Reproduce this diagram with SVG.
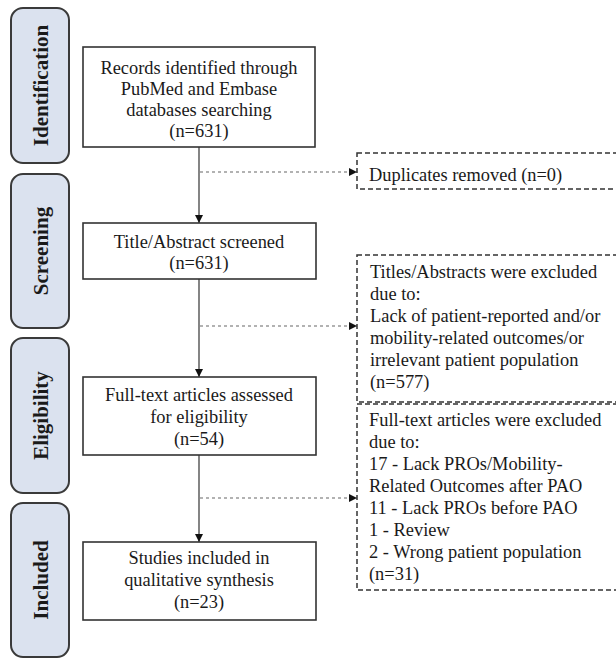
<svg xmlns="http://www.w3.org/2000/svg" width="616" height="659" viewBox="0 0 616 659">
<defs>
<style>
.stage{fill:#dbe2ef;stroke:#3a3a3a;stroke-width:2}
.stxt{font-family:"Liberation Serif","Times New Roman",serif;font-weight:bold;font-size:21px;fill:#1a1a1a;text-anchor:middle}
.box{fill:#fff;stroke:#333;stroke-width:1.6}
.dbox{fill:#fff;stroke:#333;stroke-width:1.5;stroke-dasharray:5 3}
.t{font-family:"Liberation Serif","Times New Roman",serif;font-size:18.4px;fill:#1a1a1a}
.c{text-anchor:middle}
.solid{stroke:#666;stroke-width:1.6;fill:none}
.dash{stroke:#666;stroke-width:1.2;stroke-dasharray:3 3;fill:none}
</style>
<marker id="ah" viewBox="0 0 10 10" refX="10" refY="5" markerWidth="8" markerHeight="8" markerUnits="userSpaceOnUse" orient="auto">
<path d="M0,0 L10,5 L0,10 Z" fill="#111"/>
</marker>
</defs>
<rect width="616" height="659" fill="#fff"/>

<g id="stage-identification">
<rect class="stage" x="11" y="8" width="58" height="155" rx="12"/>
<text class="stxt" transform="translate(48,85.5) rotate(-90)">Identification</text>
</g>
<g id="stage-screening">
<rect class="stage" x="11" y="174" width="58" height="154" rx="12"/>
<text class="stxt" transform="translate(48,251) rotate(-90)">Screening</text>
</g>
<g id="stage-eligibility">
<rect class="stage" x="11" y="338" width="58" height="155" rx="12"/>
<text class="stxt" transform="translate(48,415.5) rotate(-90)">Eligibility</text>
</g>
<g id="stage-included">
<rect class="stage" x="11" y="503" width="58" height="154" rx="12"/>
<text class="stxt" transform="translate(48,580) rotate(-90)">Included</text>
</g>

<g id="connectors">
<line class="solid" x1="199" y1="147" x2="199" y2="223" marker-end="url(#ah)"/>
<line class="solid" x1="199" y1="279" x2="199" y2="377" marker-end="url(#ah)"/>
<line class="solid" x1="199" y1="455" x2="199" y2="542" marker-end="url(#ah)"/>
<line class="dash" x1="200" y1="172" x2="357" y2="172" marker-end="url(#ah)"/>
<line class="dash" x1="200" y1="326" x2="357" y2="326" marker-end="url(#ah)"/>
<line class="dash" x1="200" y1="498" x2="357" y2="498" marker-end="url(#ah)"/>
</g>

<g id="records">
<rect class="box" x="83" y="47" width="232" height="100"/>
<text class="t c" x="199" y="74">Records identified through</text>
<text class="t c" x="199" y="95">PubMed and Embase</text>
<text class="t c" x="199" y="116">databases searching</text>
<text class="t c" x="199" y="137">(n=631)</text>
</g>
<g id="screened">
<rect class="box" x="83" y="223" width="233" height="56"/>
<text class="t c" x="199" y="248">Title/Abstract screened</text>
<text class="t c" x="199" y="269">(n=631)</text>
</g>
<g id="fulltext">
<rect class="box" x="83" y="377" width="233" height="78"/>
<text class="t c" x="199" y="401">Full-text articles assessed</text>
<text class="t c" x="199" y="423">for eligibility</text>
<text class="t c" x="199" y="445">(n=54)</text>
</g>
<g id="included">
<rect class="box" x="83" y="542" width="233" height="78"/>
<text class="t c" x="199" y="564">Studies included in</text>
<text class="t c" x="199" y="586">qualitative synthesis</text>
<text class="t c" x="199" y="608">(n=23)</text>
</g>

<g id="duplicates">
<rect class="dbox" x="357" y="153" width="270" height="36"/>
<text class="t" x="369" y="181">Duplicates removed (n=0)</text>
</g>
<g id="excluded-titles">
<rect class="dbox" x="357" y="255" width="270" height="147"/>
<text class="t" x="370" y="278">Titles/Abstracts were excluded</text>
<text class="t" x="370" y="300">due to:</text>
<text class="t" x="370" y="322">Lack of patient-reported and/or</text>
<text class="t" x="370" y="344">mobility-related outcomes/or</text>
<text class="t" x="370" y="366">irrelevant patient population</text>
<text class="t" x="370" y="388">(n=577)</text>
</g>
<g id="excluded-fulltext">
<rect class="dbox" x="357" y="404" width="270" height="186"/>
<text class="t" x="369" y="426">Full-text articles were excluded</text>
<text class="t" x="369" y="448">due to:</text>
<text class="t" x="369" y="470">17 - Lack PROs/Mobility-</text>
<text class="t" x="369" y="492">Related Outcomes after PAO</text>
<text class="t" x="369" y="514">11 - Lack PROs before PAO</text>
<text class="t" x="369" y="536">1 - Review</text>
<text class="t" x="369" y="558">2 - Wrong patient population</text>
<text class="t" x="369" y="580">(n=31)</text>
</g>
</svg>
